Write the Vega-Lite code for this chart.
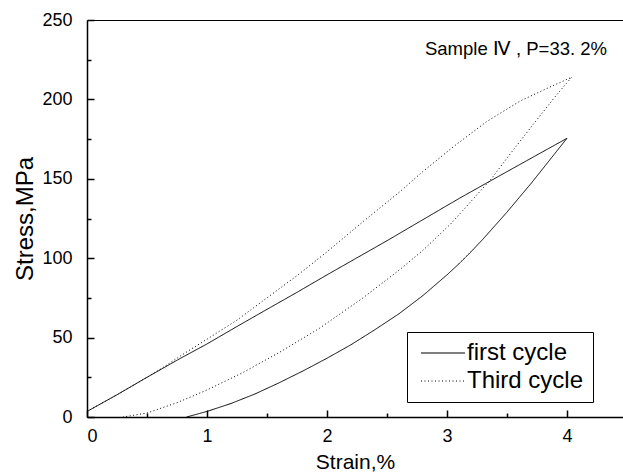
{
  "$schema": "https://vega.github.io/schema/vega-lite/v6.json",
  "width": 536,
  "height": 397,
  "autosize": {"type": "none"},
  "padding": {"left": 87, "top": 20, "right": 0, "bottom": 55},
  "background": "white",
  "config": {
    "font": "Liberation Sans",
    "view": {"stroke": null},
    "axis": {
      "domainColor": "black", "domainWidth": 1.5,
      "labelColor": "black", "titleColor": "black", "labelFont": "Liberation Sans", "titleFont": "Liberation Sans",
      "labelFontSize": 18, "titleFontWeight": "normal", "grid": false
    }
  },
  "datasets": {
    "curves": [
      {"cycle": "first cycle", "order": 1, "strain": 0, "stress": 3.5},
      {"cycle": "first cycle", "order": 2, "strain": 0.25, "stress": 14},
      {"cycle": "first cycle", "order": 3, "strain": 0.5, "stress": 25},
      {"cycle": "first cycle", "order": 4, "strain": 0.78, "stress": 37},
      {"cycle": "first cycle", "order": 5, "strain": 1, "stress": 46},
      {"cycle": "first cycle", "order": 6, "strain": 1.25, "stress": 57},
      {"cycle": "first cycle", "order": 7, "strain": 1.47, "stress": 66.5},
      {"cycle": "first cycle", "order": 8, "strain": 1.75, "stress": 78.5},
      {"cycle": "first cycle", "order": 9, "strain": 2, "stress": 89.5},
      {"cycle": "first cycle", "order": 10, "strain": 2.5, "stress": 111},
      {"cycle": "first cycle", "order": 11, "strain": 2.94, "stress": 130.5},
      {"cycle": "first cycle", "order": 12, "strain": 3.11, "stress": 138},
      {"cycle": "first cycle", "order": 13, "strain": 3.5, "stress": 154.5},
      {"cycle": "first cycle", "order": 14, "strain": 3.75, "stress": 165},
      {"cycle": "first cycle", "order": 15, "strain": 4, "stress": 175.5},
      {"cycle": "first cycle", "order": 16, "strain": 3.9, "stress": 166},
      {"cycle": "first cycle", "order": 17, "strain": 3.8, "stress": 156.5},
      {"cycle": "first cycle", "order": 18, "strain": 3.7, "stress": 147},
      {"cycle": "first cycle", "order": 19, "strain": 3.6, "stress": 138},
      {"cycle": "first cycle", "order": 20, "strain": 3.5, "stress": 129},
      {"cycle": "first cycle", "order": 21, "strain": 3.4, "stress": 120.5},
      {"cycle": "first cycle", "order": 22, "strain": 3.3, "stress": 112},
      {"cycle": "first cycle", "order": 23, "strain": 3.2, "stress": 104},
      {"cycle": "first cycle", "order": 24, "strain": 3.1, "stress": 96.5},
      {"cycle": "first cycle", "order": 25, "strain": 3.0, "stress": 89.5},
      {"cycle": "first cycle", "order": 26, "strain": 2.8, "stress": 76.5},
      {"cycle": "first cycle", "order": 27, "strain": 2.6, "stress": 65},
      {"cycle": "first cycle", "order": 28, "strain": 2.4, "stress": 55},
      {"cycle": "first cycle", "order": 29, "strain": 2.2, "stress": 45.5},
      {"cycle": "first cycle", "order": 30, "strain": 2.0, "stress": 37},
      {"cycle": "first cycle", "order": 31, "strain": 1.8, "stress": 29},
      {"cycle": "first cycle", "order": 32, "strain": 1.6, "stress": 21.5},
      {"cycle": "first cycle", "order": 33, "strain": 1.4, "stress": 14.5},
      {"cycle": "first cycle", "order": 34, "strain": 1.2, "stress": 8.5},
      {"cycle": "first cycle", "order": 35, "strain": 1.0, "stress": 3.5},
      {"cycle": "first cycle", "order": 36, "strain": 0.83, "stress": 0},
      {"cycle": "Third cycle", "order": 1, "strain": 0, "stress": 3.5},
      {"cycle": "Third cycle", "order": 2, "strain": 0.25, "stress": 14},
      {"cycle": "Third cycle", "order": 3, "strain": 0.5, "stress": 25},
      {"cycle": "Third cycle", "order": 4, "strain": 0.63, "stress": 31},
      {"cycle": "Third cycle", "order": 5, "strain": 0.8, "stress": 39.5},
      {"cycle": "Third cycle", "order": 6, "strain": 1, "stress": 49},
      {"cycle": "Third cycle", "order": 7, "strain": 1.25, "stress": 61},
      {"cycle": "Third cycle", "order": 8, "strain": 1.46, "stress": 72.8},
      {"cycle": "Third cycle", "order": 9, "strain": 1.75, "stress": 89},
      {"cycle": "Third cycle", "order": 10, "strain": 2, "stress": 104},
      {"cycle": "Third cycle", "order": 11, "strain": 2.3, "stress": 123},
      {"cycle": "Third cycle", "order": 12, "strain": 2.61, "stress": 142},
      {"cycle": "Third cycle", "order": 13, "strain": 2.79, "stress": 154},
      {"cycle": "Third cycle", "order": 14, "strain": 3.05, "stress": 170},
      {"cycle": "Third cycle", "order": 15, "strain": 3.33, "stress": 186},
      {"cycle": "Third cycle", "order": 16, "strain": 3.61, "stress": 199},
      {"cycle": "Third cycle", "order": 17, "strain": 3.85, "stress": 207.5},
      {"cycle": "Third cycle", "order": 18, "strain": 4.04, "stress": 214},
      {"cycle": "Third cycle", "order": 19, "strain": 3.91, "stress": 202.5},
      {"cycle": "Third cycle", "order": 20, "strain": 3.8, "stress": 192},
      {"cycle": "Third cycle", "order": 21, "strain": 3.69, "stress": 181.5},
      {"cycle": "Third cycle", "order": 22, "strain": 3.52, "stress": 165},
      {"cycle": "Third cycle", "order": 23, "strain": 3.37, "stress": 150},
      {"cycle": "Third cycle", "order": 24, "strain": 3.25, "stress": 140},
      {"cycle": "Third cycle", "order": 25, "strain": 3.15, "stress": 131.5},
      {"cycle": "Third cycle", "order": 26, "strain": 3.03, "stress": 121.5},
      {"cycle": "Third cycle", "order": 27, "strain": 2.8, "stress": 105},
      {"cycle": "Third cycle", "order": 28, "strain": 2.61, "stress": 93},
      {"cycle": "Third cycle", "order": 29, "strain": 2.3, "stress": 75},
      {"cycle": "Third cycle", "order": 30, "strain": 1.94, "stress": 56},
      {"cycle": "Third cycle", "order": 31, "strain": 1.61, "stress": 41},
      {"cycle": "Third cycle", "order": 32, "strain": 1.3, "stress": 28},
      {"cycle": "Third cycle", "order": 33, "strain": 1, "stress": 17},
      {"cycle": "Third cycle", "order": 34, "strain": 0.75, "stress": 9},
      {"cycle": "Third cycle", "order": 35, "strain": 0.5, "stress": 2.5},
      {"cycle": "Third cycle", "order": 36, "strain": 0.3, "stress": 0}
    ],
    "note": [{"strain": 3.575, "stress": 232, "label": "Sample Ⅳ , P=33. 2%"}]
  },
  "layer": [
    {
      "data": {"name": "curves"},
      "mark": {"type": "line", "color": "black", "strokeWidth": 1},
      "encoding": {
        "x": {"field": "strain", "type": "quantitative", "scale": {"domain": [0, 4.467], "nice": false, "zero": false},
              "axis": {"values": [0, 1, 2, 3, 4], "tickSize": -7, "tickWidth": 1.5, "tickColor": "black", "labelPadding": 17, "title": "Strain,%", "titleFontSize": 21, "titlePadding": 6, "orient": "bottom"}},
        "y": {"field": "stress", "type": "quantitative", "scale": {"domain": [0, 250], "nice": false},
              "axis": {"values": [0, 50, 100, 150, 200, 250], "tickSize": -7, "tickWidth": 1.5, "tickColor": "black", "labelPadding": 22, "title": "Stress,MPa", "titleFontSize": 24, "titlePadding": 4, "orient": "left"}},
        "strokeDash": {"field": "cycle", "type": "nominal",
          "scale": {"domain": ["first cycle", "Third cycle"], "range": [[1, 0], [1, 2.5]]},
          "legend": {"title": null, "orient": "none", "legendX": 320, "legendY": 312, "symbolType": "M-0.7,0H3.7", "symbolSize": 400,
                     "symbolStrokeWidth": 1, "symbolStrokeColor": "black", "labelFontSize": 24, "labelFont": "Liberation Sans", "labelColor": "black",
                     "strokeColor": "black", "fillColor": "white", "padding": 9, "rowPadding": 4, "labelOffset": 27, "labelLimit": 300}},
        "order": {"field": "order", "type": "quantitative"}
      }
    },
    {
      "data": {"name": "curves"},
      "mark": {"type": "line", "opacity": 0},
      "encoding": {
        "x": {"field": "strain", "type": "quantitative", "scale": {"domain": [0, 4.467], "nice": false, "zero": false},
              "axis": {"values": [0.5, 1.5, 2.5, 3.5], "tickSize": -4, "tickWidth": 1.5, "tickColor": "black", "labels": false, "domain": false, "title": null, "orient": "bottom"}},
        "y": {"field": "stress", "type": "quantitative", "scale": {"domain": [0, 250], "nice": false},
              "axis": {"values": [25, 75, 125, 175, 225], "tickSize": -4, "tickWidth": 1.5, "tickColor": "black", "labels": false, "domain": false, "title": null, "orient": "left"}}
      }
    },
    {
      "data": {"name": "note"},
      "mark": {"type": "text", "font": "Liberation Sans", "fontSize": 18.5, "color": "black", "align": "center", "baseline": "middle"},
      "encoding": {
        "x": {"field": "strain", "type": "quantitative",
              "axis": {"orient": "top", "ticks": false, "labels": false, "title": null, "domainWidth": 1}},
        "y": {"field": "stress", "type": "quantitative",
              "axis": {"orient": "right", "ticks": false, "labels": false, "title": null, "domainWidth": 1}},
        "text": {"field": "label"}
      }
    }
  ],
  "resolve": {"axis": {"x": "independent", "y": "independent"}}
}
